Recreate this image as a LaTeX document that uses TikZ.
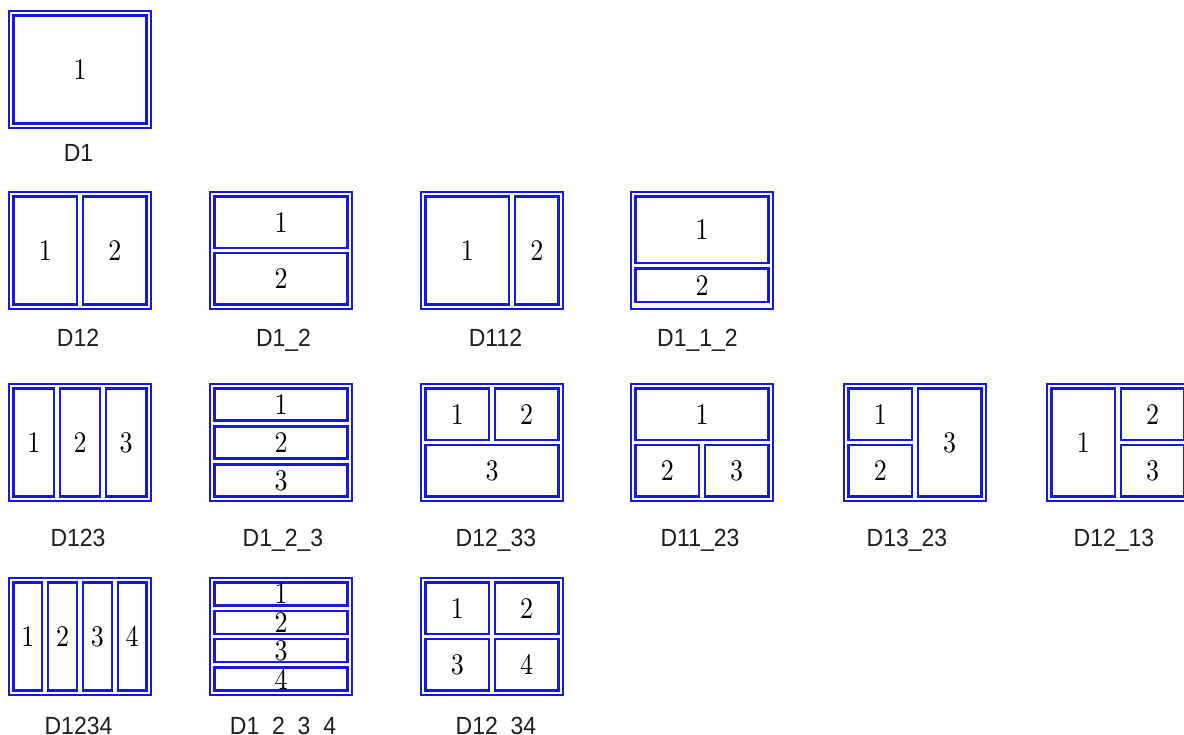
\documentclass[tikz,border=0pt]{standalone}
\usepackage{graphicx}
\usepackage{fontspec}
\newfontfamily\labfont{Liberation Sans}
\newfontfamily\digitfont{lmroman10-regular}[Extension=.otf]
\definecolor{frameblue}{RGB}{24,24,216}
\definecolor{labgray}{RGB}{30,30,30}
\tikzset{
  frameline/.style={draw=frameblue, line width=2.3pt},
  cellline/.style={draw=frameblue, line width=2.3pt},
  digit/.style={inner sep=0pt, font=\digitfont\fontsize{26}{26}\selectfont, text=black},
  lab/.style={inner sep=0pt, anchor=base, font=\labfont\fontsize{23}{23}\selectfont, text=labgray}
}
\newcommand\vstretch[1]{\scalebox{1}[1.15]{#1}}
\newcommand\lstretch[1]{\scalebox{1}[1.08]{#1}}
\newcommand\mycell[6]{%
  \draw[cellline] (#2,#3) rectangle (#4,#5);
  \node[digit] (#1) at ({(#2+#4)/2},{(#3+#5)/2}) {\vstretch{#6}};}
\newcommand\myframe{\draw[frameline] (0,0) rectangle (142,117);}
\begin{document}
\begin{tikzpicture}[x=1pt,y=-1pt]
\useasboundingbox (0,0) rectangle (1184,735);
\clip (0,0) rectangle (1184,735);
\fill[white] (0,0) rectangle (1184,735);

% ---------- row 1 ----------
\begin{scope}[shift={(9,11)}]
  \myframe
  \mycell{dA}{4.5}{4.5}{137.5}{112.5}{1}
\end{scope}
\node[lab] (lD1) at (78.5,162) {\lstretch{D1}};

% ---------- row 2 ----------
\begin{scope}[shift={(9,192)}]
  \myframe
  \mycell{dBa}{4.5}{4.5}{68}{112.5}{1}
  \mycell{dBb}{74}{4.5}{137.5}{112.5}{2}
\end{scope}
\node[lab] (lD12) at (78,347) {\lstretch{D12}};

\begin{scope}[shift={(210,192)}]
  \myframe
  \mycell{dCa}{4.5}{4.5}{137.5}{55.75}{1}
  \mycell{dCb}{4.5}{61.25}{137.5}{112.5}{2}
\end{scope}
\node[lab] (lD1_2) at (283.5,347) {\lstretch{D1\_2}};

\begin{scope}[shift={(421,192)}]
  \myframe
  \mycell{dDa}{4.5}{4.5}{88}{112.5}{1}
  \mycell{dDb}{94}{4.5}{137.5}{112.5}{2}
\end{scope}
\node[lab] (lD112) at (495.5,347) {\lstretch{D112}};

\begin{scope}[shift={(631,192)}]
  \myframe
  \mycell{dEa}{4.5}{4.5}{137.5}{71}{1}
  \mycell{dEb}{4.5}{76.5}{137.5}{110}{2}
\end{scope}
\node[lab] (lD1_1_2) at (697.5,347) {\lstretch{D1\_1\_2}};

% ---------- row 3 ----------
\begin{scope}[shift={(9,384)}]
  \myframe
  \mycell{dFa}{4.5}{4.5}{45.2}{112.5}{1}
  \mycell{dFb}{50.7}{4.5}{91.3}{112.5}{2}
  \mycell{dFc}{96.8}{4.5}{137.5}{112.5}{3}
\end{scope}
\node[lab] (lD123) at (78,546) {\lstretch{D123}};

\begin{scope}[shift={(210,384)}]
  \myframe
  \mycell{dGa}{4.5}{4.5}{137.5}{36.5}{1}
  \mycell{dGb}{4.5}{42.5}{137.5}{74.5}{2}
  \mycell{dGc}{4.5}{80.5}{137.5}{112.5}{3}
\end{scope}
\node[lab] (lD1_2_3) at (283,546) {\lstretch{D1\_2\_3}};

\begin{scope}[shift={(421,384)}]
  \myframe
  \mycell{dHa}{4.5}{4.5}{68.25}{55.75}{1}
  \mycell{dHb}{73.75}{4.5}{137.5}{55.75}{2}
  \mycell{dHc}{4.5}{61.25}{137.5}{112.5}{3}
\end{scope}
\node[lab] (lD12_33) at (496,546) {\lstretch{D12\_33}};

\begin{scope}[shift={(631,384)}]
  \myframe
  \mycell{dIa}{4.5}{4.5}{137.5}{55.75}{1}
  \mycell{dIb}{4.5}{61.25}{68.25}{112.5}{2}
  \mycell{dIc}{73.75}{61.25}{137.5}{112.5}{3}
\end{scope}
\node[lab] (lD11_23) at (700,546) {\lstretch{D11\_23}};

\begin{scope}[shift={(844,384)}]
  \myframe
  \mycell{dJa}{4.5}{4.5}{68.25}{55.75}{1}
  \mycell{dJb}{4.5}{61.25}{68.25}{112.5}{2}
  \mycell{dJc}{73.75}{4.5}{137.5}{112.5}{3}
\end{scope}
\node[lab] (lD13_23) at (907,546) {\lstretch{D13\_23}};

\begin{scope}[shift={(1047,384)}]
  \myframe
  \mycell{dKa}{4.5}{4.5}{68.25}{112.5}{1}
  \mycell{dKb}{73.75}{4.5}{137.5}{55.75}{2}
  \mycell{dKc}{73.75}{61.25}{137.5}{112.5}{3}
\end{scope}
\node[lab] (lD12_13) at (1114,546) {\lstretch{D12\_13}};

% ---------- row 4 ----------
\begin{scope}[shift={(9,578)}]
  \myframe
  \mycell{dLa}{4.5}{4.5}{33.25}{112.5}{1}
  \mycell{dLb}{39.25}{4.5}{68}{112.5}{2}
  \mycell{dLc}{74}{4.5}{102.75}{112.5}{3}
  \mycell{dLd}{108.75}{4.5}{137.5}{112.5}{4}
\end{scope}
\node[lab] (lD1234) at (78.5,734) {\lstretch{D1234}};

\begin{scope}[shift={(210,578)}]
  \myframe
  \mycell{dMa}{4.5}{4.5}{137.5}{27.4}{1}
  \mycell{dMb}{4.5}{32.9}{137.5}{55.8}{2}
  \mycell{dMc}{4.5}{61.3}{137.5}{84.1}{3}
  \mycell{dMd}{4.5}{89.6}{137.5}{112.5}{4}
\end{scope}
\node[lab] (lD1_2_3_4) at (283,734) {\lstretch{D1\_2\_3\_4}};

\begin{scope}[shift={(421,578)}]
  \myframe
  \mycell{dNa}{4.5}{4.5}{68.25}{55.75}{1}
  \mycell{dNb}{73.75}{4.5}{137.5}{55.75}{2}
  \mycell{dNc}{4.5}{61.25}{68.25}{112.5}{3}
  \mycell{dNd}{73.75}{61.25}{137.5}{112.5}{4}
\end{scope}
\node[lab] (lD12_34) at (496,734) {\lstretch{D12\_34}};
\end{tikzpicture}
\end{document}
